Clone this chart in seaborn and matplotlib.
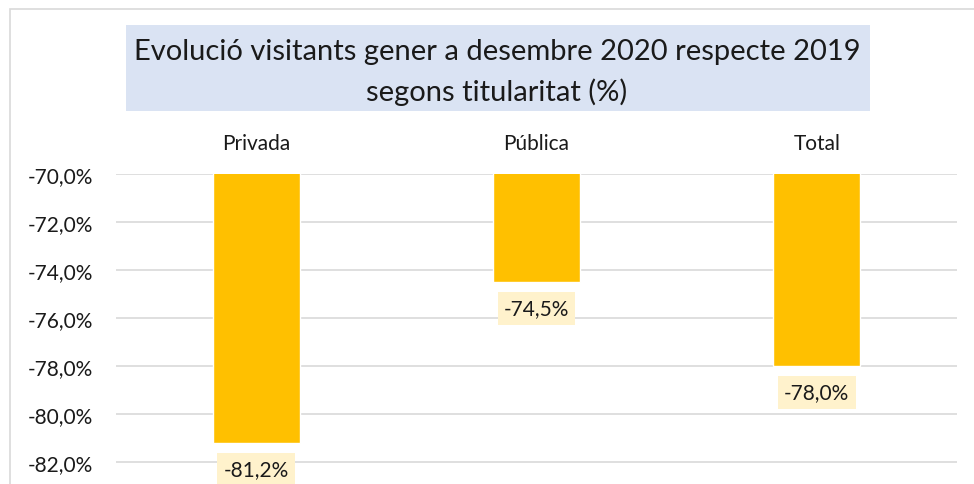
import matplotlib
matplotlib.use("Agg")
import matplotlib.pyplot as plt
import matplotlib.patches as mpatches
from matplotlib.ticker import FuncFormatter
import seaborn as sns
import pandas as pd

# --- Data ---
categories = ["Privada", "Pública", "Total"]
values = [-81.2, -74.5, -78.0]
label_texts = ["-81,2%", "-74,5%", "-78,0%"]
y_ticks = [-70, -72, -74, -76, -78, -80, -82]
title_lines = ["Evolució visitants gener a desembre 2020 respecte 2019",
               "segons titularitat (%)"]

df = pd.DataFrame({"titularitat": categories, "variacio": values})

sns.set_theme(style="white")
plt.rcParams["font.family"] = ["Lato", "DejaVu Sans"]

W, H = 974, 485
fig = plt.figure(figsize=(W / 100, H / 100), dpi=100)

# axes placed in pixel terms; bottom runs past the figure edge like the cropped original
left, right, top, bottom = 116, 957, 175, 175 + 14 * 24
ax = fig.add_axes([left / W, 1 - bottom / H, (right - left) / W, (bottom - top) / H])

sns.barplot(data=df, x="titularitat", y="variacio", color="#FFC000", width=0.31,
            saturation=1, ax=ax, zorder=3)

ax.set_ylim(-84, -70)
ax.set_yticks(y_ticks)
ax.yaxis.set_major_formatter(FuncFormatter(lambda v, p: f"{v:.1f}%".replace(".", ",")))
ax.grid(axis="y", color="#D9D9D9", linewidth=1.2, zorder=0)
ax.tick_params(axis="y", length=0, pad=16.5, labelsize=15, labelcolor="#1a1a1a")
ax.xaxis.tick_top()
ax.tick_params(axis="x", length=0, pad=15, labelsize=15, labelcolor="#1a1a1a")
ax.set_xlabel("")
ax.set_ylabel("")
for s in ax.spines.values():
    s.set_visible(False)

# data labels under the bar ends
for i, (v, t) in enumerate(zip(values, label_texts)):
    ax.annotate(t, (i, v), xytext=(0, -19), textcoords="offset points",
                ha="center", va="center", fontsize=15, color="#1a1a1a", zorder=4,
                bbox=dict(boxstyle="square,pad=0.3", facecolor="#FFF2CC", edgecolor="none"))

# outer chart border
fig.patches.append(mpatches.Rectangle((10 / W, -0.1), 1.2, 1 - 10 / H + 0.1,
                                      transform=fig.transFigure, fill=False,
                                      edgecolor="#D9D9D9", linewidth=1.2))

# title box, two lines placed separately
fig.patches.append(mpatches.Rectangle((126 / W, 1 - 112 / H), (870 - 126) / W, (112 - 26) / H,
                                      transform=fig.transFigure, facecolor="#DAE3F3",
                                      edgecolor="none"))
for line, yc in zip(title_lines, [52, 92]):
    fig.text(497 / W, 1 - yc / H, line, ha="center", va="center", fontsize=21,
             color="#1a1a1a")

fig.savefig("out.png", dpi=100)
